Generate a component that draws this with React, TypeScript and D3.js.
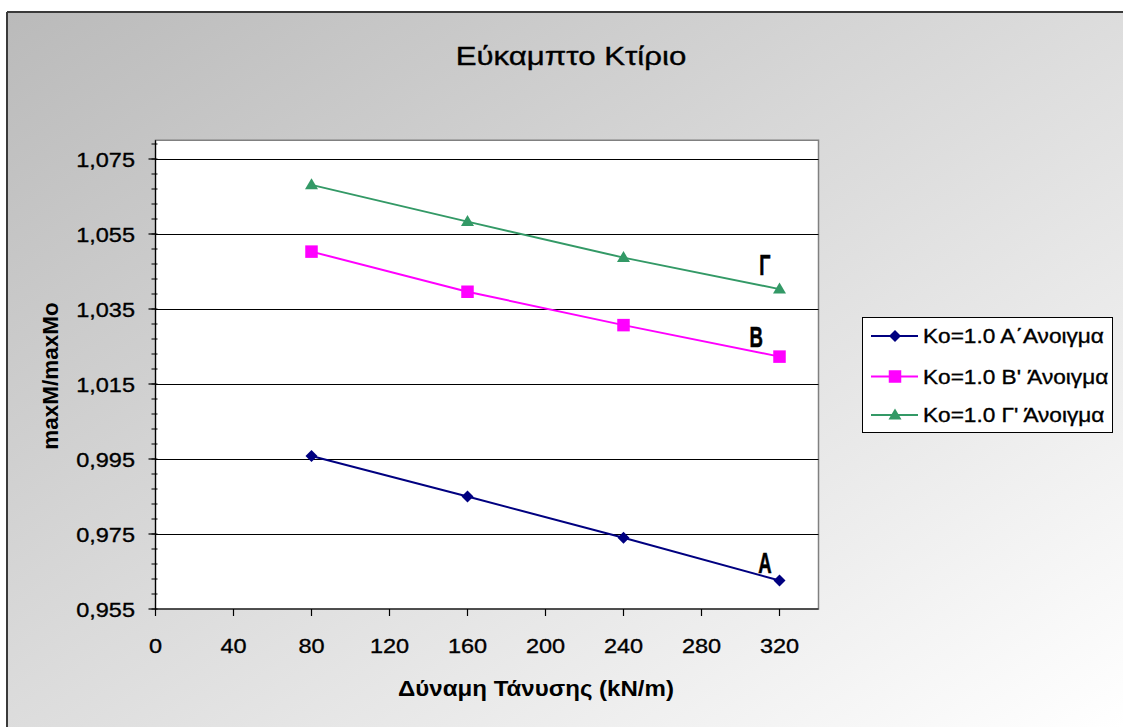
import React from "react";
import * as d3 from "d3";

const W = 1123;
const H = 727;

// Tension force (kN/m) at which each ratio was computed
const tension = [80, 160, 240, 320];
// maxM/maxMo per span
const spanA = [0.9958, 0.985, 0.974, 0.9626];
const spanB = [1.0503, 1.0396, 1.0307, 1.0223];
const spanG = [1.0681, 1.0583, 1.0487, 1.0403];

const seriesNames = ["Ko=1.0 A\u0384Ανοιγμα", "Ko=1.0 B' Άνοιγμα", "Ko=1.0 Γ' Άνοιγμα"];
const seriesColors = ["#000080", "#ff00ff", "#339966"];
const seriesShapes = ["diamond", "square", "triangle"];

const xTicks = [0, 40, 80, 120, 160, 200, 240, 280, 320];
const yTicks = [0.955, 0.975, 0.995, 1.015, 1.035, 1.055, 1.075];

// In-plot span letters, placed in data coordinates
const spanLabels = ["A", "B", "Γ"];
const spanLabelX = [312.5, 308, 312.5];
const spanLabelY = [0.9646, 1.0249, 1.0441];

const title = "Εύκαμπτο Κτίριο";
const xTitle = "Δύναμη Τάνυσης (kN/m)";
const yTitle = "maxM/maxMo";

const FONT = "'Liberation Sans', Arial, sans-serif";
const SX = 1.12;

const greekLocale = d3.formatLocale({ decimal: ",", thousands: ".", grouping: [3], currency: ["€", ""] });
const fmtY = greekLocale.format(".3f");

function Marker({ shape, x, y, color }: { shape: string; x: number; y: number; color: string }) {
  if (shape === "diamond") {
    const r = 6;
    return <path d={`M${x},${y - r}L${x + r},${y}L${x},${y + r}L${x - r},${y}Z`} fill={color} />;
  }
  if (shape === "square") {
    const s = 12.5;
    return <rect x={x - s / 2} y={y - s / 2} width={s} height={s} fill={color} />;
  }
  const w = 13, h = 11;
  return <path d={`M${x},${y - h * 0.6}L${x + w / 2},${y + h * 0.4}L${x - w / 2},${y + h * 0.4}Z`} fill={color} />;
}

function SText({ x, y, sx = SX, children, ...rest }: any) {
  return (
    <text transform={`translate(${x},${y}) scale(${sx},1)`} {...rest}>
      {children}
    </text>
  );
}

export default function App() {
  const plot = { left: 155.5, right: 818.5, top: 140.25, bottom: 609 };
  const x = d3.scaleLinear().domain([0, 340]).range([plot.left, plot.right]);
  const y = d3.scaleLinear().domain([0.955, 1.08]).range([plot.bottom, plot.top]);

  const series = [spanA, spanB, spanG];
  const line = d3
    .line<number>()
    .x((_, i) => x(tension[i]))
    .y((d) => y(d));

  const minorTicks = d3.range(0, 32).map((i) => 0.955 + i * 0.004).filter((v) => v <= 1.0801);

  const legend = { x: 862.5, y: 317.5, w: 250, h: 115 };
  const legendRows = [336, 376.5, 415];
  const heavy = { stroke: "#000", strokeWidth: 0.35 };

  return (
    <svg
      width={W}
      height={H}
      style={{ position: "absolute", left: 0, top: 0, display: "block" }}
      fontFamily={FONT}
    >
      <defs>
        <linearGradient id="bg" x1="0" y1="0" x2="1" y2="1">
          <stop offset="0" stopColor="#bababa" />
          <stop offset="1" stopColor="#ffffff" />
        </linearGradient>
      </defs>
      <rect x={0} y={0} width={W} height={H} fill="#ffffff" />
      <rect x={7} y={12} width={W - 7} height={H - 12} fill="url(#bg)" />
      <line x1={7} y1={12} x2={W} y2={12} stroke="#3a3a3a" strokeWidth={2} />
      <line x1={7} y1={12} x2={7} y2={H} stroke="#3a3a3a" strokeWidth={2} />

      <SText x={571} y={65} sx={1.2} fontSize={26} textAnchor="middle" fill="#000" {...heavy}>
        {title}
      </SText>

      {/* plot area */}
      <rect
        x={plot.left}
        y={plot.top}
        width={plot.right - plot.left}
        height={plot.bottom - plot.top}
        fill="#ffffff"
        stroke="#808080"
        strokeWidth={1.5}
      />
      {yTicks.slice(1).map((t) => (
        <line key={t} x1={plot.left} x2={plot.right} y1={Math.round(y(t)) + 0.5} y2={Math.round(y(t)) + 0.5} stroke="#000" strokeWidth={1.2} />
      ))}

      {/* axes */}
      <line x1={plot.left} x2={plot.left} y1={plot.top} y2={plot.bottom} stroke="#000" strokeWidth={1.2} />
      <line x1={plot.left} x2={plot.right} y1={plot.bottom} y2={plot.bottom} stroke="#000" strokeWidth={1.2} />
      {minorTicks.map((t) => (
        <line key={"m" + t} x1={plot.left - 4} x2={plot.left + 2} y1={y(t)} y2={y(t)} stroke="#000" strokeWidth={1} />
      ))}
      {yTicks.map((t) => (
        <line key={"M" + t} x1={plot.left - 7} x2={plot.left} y1={y(t)} y2={y(t)} stroke="#000" strokeWidth={1.2} />
      ))}
      {xTicks.map((t) => (
        <line key={"x" + t} x1={x(t)} x2={x(t)} y1={plot.bottom} y2={plot.bottom + 7} stroke="#000" strokeWidth={1.2} />
      ))}
      {yTicks.map((t) => (
        <SText key={"yl" + t} x={135} y={y(t) + 7.5} fontSize={21} textAnchor="end" fill="#000" {...heavy}>
          {fmtY(t)}
        </SText>
      ))}
      {xTicks.map((t) => (
        <SText key={"xl" + t} x={x(t)} y={653} fontSize={21} textAnchor="middle" fill="#000" {...heavy}>
          {String(t)}
        </SText>
      ))}

      <SText x={536} y={696} fontSize={21.5} fontWeight="bold" textAnchor="middle" fill="#000">
        {xTitle}
      </SText>
      <text transform={`translate(58,376) rotate(-90)`} fontSize={22.5} fontWeight="bold" textAnchor="middle" fill="#000">
        {yTitle}
      </text>

      {/* series */}
      {series.map((s, si) => (
        <g key={si}>
          <path d={line(s) || ""} fill="none" stroke={seriesColors[si]} strokeWidth={2} />
          {s.map((v, i) => (
            <Marker key={i} shape={seriesShapes[si]} x={x(tension[i])} y={y(v)} color={seriesColors[si]} />
          ))}
        </g>
      ))}

      {spanLabels.map((l, i) => (
        <SText key={l} x={x(spanLabelX[i])} y={y(spanLabelY[i])} sx={0.62} fontSize={30} fontWeight="bold" textAnchor="middle" fill="#000" stroke="#000" strokeWidth={0.6}>
          {l}
        </SText>
      ))}

      {/* legend */}
      <rect x={legend.x} y={legend.y} width={legend.w} height={legend.h} fill="#ffffff" stroke="#000" strokeWidth={1} />
      {seriesNames.map((n, i) => (
        <g key={n}>
          <line x1={871} x2={918} y1={legendRows[i]} y2={legendRows[i]} stroke={seriesColors[i]} strokeWidth={2} />
          <Marker shape={seriesShapes[i]} x={895} y={legendRows[i]} color={seriesColors[i]} />
          <SText x={923} y={legendRows[i] + 7} sx={1.16} fontSize={19.5} fill="#000" {...heavy}>
            {n}
          </SText>
        </g>
      ))}
    </svg>
  );
}
